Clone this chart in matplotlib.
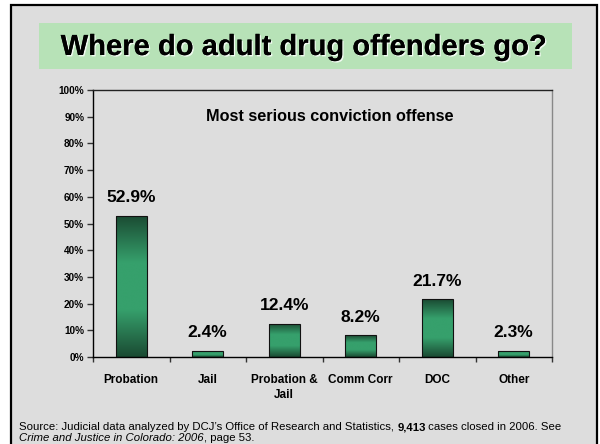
import matplotlib

matplotlib.use("Agg")

import matplotlib.pyplot as plt
import numpy as np
from matplotlib import colors as mcolors
from matplotlib import patheffects
from matplotlib.patches import Rectangle

categories = ["Probation", "Jail", "Probation &\nJail", "Comm Corr", "DOC", "Other"]
shares = [52.9, 2.4, 12.4, 8.2, 21.7, 2.3]
y_ticks = list(range(0, 101, 10))

title = "Where do adult drug offenders go?"
subtitle = "Most serious conviction offense"
source_line1 = [("Source: Judicial data analyzed by DCJ\u2019s Office of Research and Statistics, ", "normal", "normal"),
                ("9,413", "bold", "normal"),
                (" cases closed in 2006. See", "normal", "normal")]
source_line2 = [("Crime and Justice in Colorado: 2006", "normal", "italic"),
                (", page 53.", "normal", "normal")]

PAGE = "#dddddd"
BOX = "#b7e2b7"
DARK = "#1a4a32"
LIGHT = "#36a06c"

plt.rcParams["font.family"] = ["Liberation Sans", "DejaVu Sans"]

fig = plt.figure(figsize=(6.0, 4.44), dpi=100, facecolor="white")

# slide background with its black frame (runs off the bottom edge)
fig.add_artist(Rectangle((11 / 600, -0.05), 586 / 600, 1.05 - 5 / 444,
                         transform=fig.transFigure, facecolor=PAGE,
                         edgecolor="black", lw=1.6, zorder=0))
# title banner
fig.add_artist(Rectangle((39 / 600, 1 - 69 / 444), 533 / 600, 46 / 444,
                         transform=fig.transFigure, facecolor=BOX,
                         edgecolor="none", zorder=1))
fig.text(0.506, 1 - 55 / 444, title, ha="center", va="baseline",
         fontsize=21, fontweight="bold", zorder=2,
         path_effects=[patheffects.withSimplePatchShadow(
             offset=(1, -1), shadow_rgbFace="white", alpha=0.8),
             patheffects.Normal()])

ax = fig.add_axes((93 / 600, 1 - 357 / 444, 459 / 600, 267 / 444))
ax.set_facecolor("none")

x = np.arange(len(categories)) + 0.5
bars = ax.bar(x, shares, width=0.4, facecolor="none", edgecolor="#111111",
              lw=0.8, zorder=3)

# each bar gets a dark-light-dark vertical gradient, clipped to the bar
grad_cmap = mcolors.LinearSegmentedColormap.from_list("bar", [DARK, LIGHT, LIGHT, DARK])
grad = np.linspace(0, 1, 256).reshape(-1, 1)
for bar in bars:
    x0, w, h = bar.get_x(), bar.get_width(), bar.get_height()
    im = ax.imshow(grad, cmap=grad_cmap, aspect="auto", origin="lower",
                   extent=[x0, x0 + w, 0, h], zorder=2, interpolation="bilinear")
    im.set_clip_path(bar)

for xi, v in zip(x, shares):
    ax.annotate(f"{v:.1f}%", (xi, v), xytext=(0, 13), textcoords="offset points",
                ha="center", va="center", fontsize=12.5, fontweight="bold")

ax.text(0.516, 0.90, subtitle, transform=ax.transAxes,
        ha="center", va="center", fontsize=11.7, fontweight="bold")

ax.set_xlim(0, len(categories))
ax.set_ylim(0, 100)
ax.set_yticks(y_ticks)
ax.set_yticklabels([f"{t}%" for t in y_ticks])
ax.set_xticks(np.arange(len(categories) + 1))
ax.set_xticklabels([])
ax.set_xticks(x, minor=True)
ax.set_xticklabels(categories, minor=True, fontsize=8.5, fontweight="bold",
                   linespacing=1.35)
ax.tick_params(axis="x", which="major", direction="out", length=3.8, width=1, color="#333333")
ax.tick_params(axis="x", which="minor", length=0, pad=12)
ax.tick_params(axis="y", direction="out", length=4.3, width=1, color="#333333", pad=2)
for lbl in ax.get_yticklabels():
    lbl.set_fontsize(7.2)
    lbl.set_fontweight("bold")

ax.spines["left"].set_color("black")
ax.spines["bottom"].set_color("black")
ax.spines["top"].set_color("#222222")
ax.spines["right"].set_color("#888888")
for s in ax.spines.values():
    s.set_linewidth(1)

# source note: mixed styles laid out piece by piece on a shared baseline
renderer = fig.canvas.get_renderer()
for line, yb in ((source_line1, 1 - 430 / 444), (source_line2, 1 - 441 / 444)):
    xpos = 19 / 600
    for txt, weight, style in line:
        t = fig.text(xpos, yb, txt, fontsize=8.2, fontweight=weight,
                     fontstyle=style, ha="left", va="baseline")
        bb = t.get_window_extent(renderer)
        xpos = bb.x1 / fig.bbox.width

fig.savefig("out.png", dpi=100, facecolor="white")
